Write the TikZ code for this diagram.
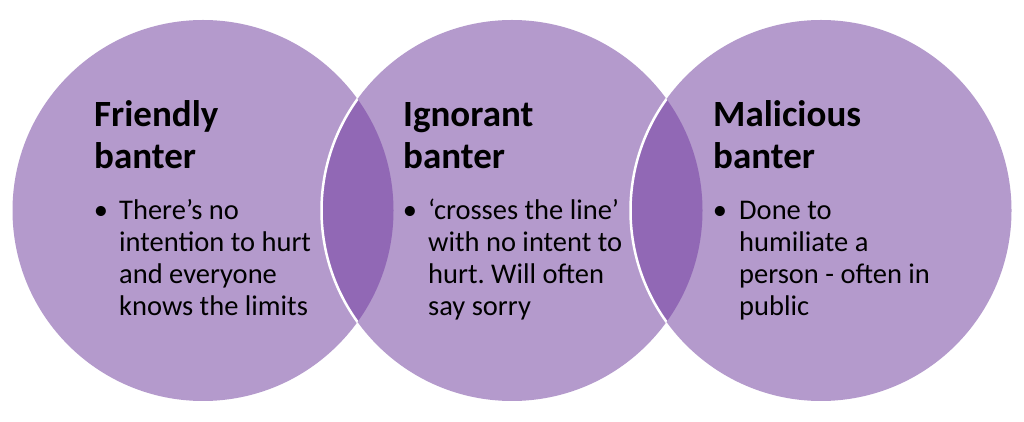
\documentclass[tikz,border=0pt]{standalone}
\usepackage{fontspec}
\setmainfont{Carlito}
\frenchspacing
\usetikzlibrary{positioning}
\definecolor{lilac}{HTML}{B49ACC}
\definecolor{lilacdark}{HTML}{9168B5}
\tikzset{
  bubble/.style={circle,fill=lilac,minimum size=381pt,inner sep=0pt},
  heading/.style={anchor=base west,align=left,inner sep=0pt,
    font=\fontsize{37}{42}\selectfont\bfseries},
  bodytext/.style={anchor=base west,align=left,inner sep=0pt,
    font=\fontsize{28.5}{32}\selectfont},
  bulletmark/.style={anchor=base,inner sep=0pt,
    font=\fontsize{28.5}{32}\selectfont}
}

\begin{document}
\begin{tikzpicture}[x=1pt,y=1pt]
  \useasboundingbox[fill=white] (0,0) rectangle (1024,422);
  % the three circles
  \node[bubble] (friendly)  at (203,211.5) {};
  \node[bubble] (ignorant)  at (512,211.5) {};
  \node[bubble] (malicious) at (821,211.5) {};
  % overlaps, white edge on the left arc only
  \begin{scope}
    \clip (friendly.center) circle (190.5pt);
    \fill[lilacdark] (ignorant.center) circle (190.5pt);
    \draw[white,line width=2.5pt] (ignorant.center) circle (190.5pt);
  \end{scope}
  \begin{scope}
    \clip (ignorant.center) circle (190.5pt);
    \fill[lilacdark] (malicious.center) circle (190.5pt);
    \draw[white,line width=2.5pt] (malicious.center) circle (190.5pt);
  \end{scope}
  % texts (base = last line)
  \node[heading] (friendly-t) at (94,253) {Friendly\\banter};
  \node[bulletmark] (friendly-b) at (101,202) {•};
  \node[bodytext] (friendly-x) at (119,106)
    {There’s no\\intention to hurt\\and everyone\\knows the limits};
  \node[heading] (ignorant-t) at (403,253) {Ignorant\\banter};
  \node[bulletmark] (ignorant-b) at (410,202) {•};
  \node[bodytext] (ignorant-x) at (428,106)
    {‘crosses the line’\\with no intent to\\hurt. Will often\\say sorry};
  \node[heading] (malicious-t) at (713,253) {Malicious\\banter};
  \node[bulletmark] (malicious-b) at (720,202) {•};
  \node[bodytext] (malicious-x) at (739,106)
    {Done to\\humiliate a\\person - often in\\public};
\end{tikzpicture}
\end{document}
